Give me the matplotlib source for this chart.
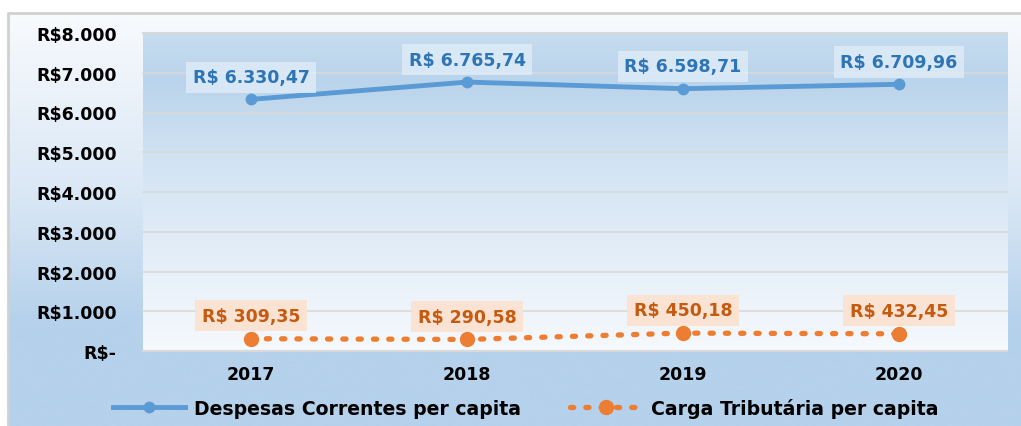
import numpy as np
import matplotlib.pyplot as plt
from matplotlib.colors import LinearSegmentedColormap
from matplotlib.lines import Line2D

anos = ['2017', '2018', '2019', '2020']
despesas = [6330.47, 6765.74, 6598.71, 6709.96]
carga = [309.35, 290.58, 450.18, 432.45]
rotulos_desp = ['R$ 6.330,47', 'R$ 6.765,74', 'R$ 6.598,71', 'R$ 6.709,96']
rotulos_carga = ['R$ 309,35', 'R$ 290,58', 'R$ 450,18', 'R$ 432,45']
yticks = [0, 1000, 2000, 3000, 4000, 5000, 6000, 7000, 8000]
ytick_labels = ['R$-', 'R$1.000', 'R$2.000', 'R$3.000', 'R$4.000',
                'R$5.000', 'R$6.000', 'R$7.000', 'R$8.000']

azul = '#5b9bd5'
laranja = '#ed7d31'

plt.rcParams['font.family'] = ['DejaVu Sans']
fs = 12.5

fig = plt.figure(figsize=(10.21, 4.27), dpi=100)

# fundo externo com degradê
bg = fig.add_axes([0, 0, 1, 1])
bg.set_xlim(0, 1021)
bg.set_ylim(427, 0)
bg.axis('off')
cm_out = LinearSegmentedColormap.from_list(
    'out', [(0, '#f8fafd'), (0.45, '#d9e7f5'), (0.75, '#b5d1eb'), (1, '#b5d1eb')])
grad = np.linspace(0, 1, 256).reshape(-1, 1)
bg.imshow(grad, cmap=cm_out, extent=[8, 1021, 427, 14], aspect='auto')
bg.plot([8, 8, 1021], [427, 14, 14], color='#d0d0d0', lw=2)

# área do gráfico
ax = fig.add_axes([143 / 1021, 75 / 427, 864 / 1021, 318 / 427])
ax.set_zorder(2)
cm_in = LinearSegmentedColormap.from_list(
    'in', [(0, '#f6f9fd'), (0.6, '#d2e3f3'), (0.85, '#bad4eb'), (1, '#c6dcef')])
ax.imshow(grad, cmap=cm_in, extent=[0, 4, 0, 8000], aspect='auto',
          origin='lower', zorder=0)
ax.set_xlim(0, 4)
ax.set_ylim(0, 8000)

for v in yticks:
    ax.axhline(v, color='#d9d9d9', lw=1.5 if v in (0, 8000) else 1.2,
               zorder=1, clip_on=False)

x = np.arange(len(anos)) + 0.5
ax.plot(x, despesas, color=azul, lw=3.5, marker='o', ms=7.5, zorder=3)
ax.plot(x, carga, color=laranja, lw=3.8, ls=(0, (0.6, 2.3)),
        dash_capstyle='round', marker='o', ms=10, zorder=3)

for xi, v, t in zip(x, despesas, rotulos_desp):
    ax.annotate(t, (xi, v), xytext=(0, 16), textcoords='offset points',
                ha='center', va='center', fontsize=fs, fontweight='bold',
                color='#2e75b6', zorder=4,
                bbox=dict(boxstyle='square,pad=0.38', fc='#deebf7', ec='none', alpha=0.85))
for xi, v, t in zip(x, carga, rotulos_carga):
    ax.annotate(t, (xi, v), xytext=(0, 16.5), textcoords='offset points',
                ha='center', va='center', fontsize=fs, fontweight='bold',
                color='#c55a11', zorder=4,
                bbox=dict(boxstyle='square,pad=0.38', fc='#fbe3d3', ec='none'))

ax.set_xticks(x)
ax.set_xticklabels(anos, fontsize=fs, fontweight='bold')
ax.set_yticks(yticks)
ax.set_yticklabels(ytick_labels, fontsize=fs, fontweight='bold')
ax.tick_params(axis='x', length=0, pad=10)
ax.tick_params(axis='y', length=0, pad=19)
for s in ax.spines.values():
    s.set_visible(False)

h1 = Line2D([], [], color=azul, lw=3.5, marker='o', ms=7.5)
h2 = Line2D([], [], color=laranja, lw=3.8, ls=(0, (0.6, 2.3)),
            dash_capstyle='round', marker='o', ms=10)
fig.legend([h1, h2], ['Despesas Correntes per capita', 'Carga Tributária per capita'],
           loc='center', bbox_to_anchor=(0.515, 0.043), ncol=2, frameon=False,
           prop={'weight': 'bold', 'size': 13.6}, handlelength=3.8,
           handletextpad=0.5, columnspacing=2.6)

fig.savefig('out.png', dpi=100)
